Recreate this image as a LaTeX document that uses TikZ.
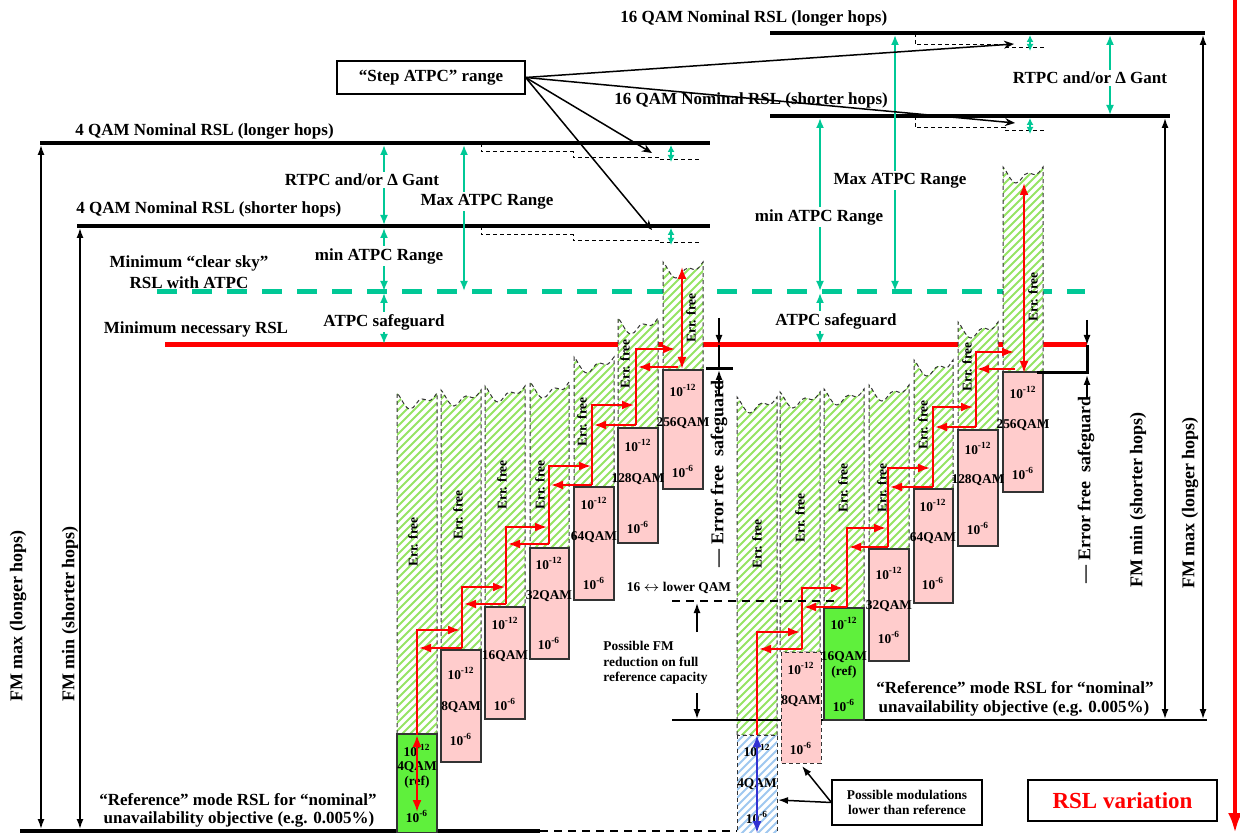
\documentclass[tikz,border=0pt]{standalone}
\usepackage{fontspec}
\setmainfont{Liberation Serif}
\usetikzlibrary{arrows.meta}
\definecolor{tealc}{RGB}{0,200,150}
\definecolor{hgreen}{RGB}{150,228,100}
\definecolor{hblue}{RGB}{160,200,240}
\definecolor{pinkf}{RGB}{255,204,204}
\definecolor{refgreen}{RGB}{95,240,60}
\definecolor{bluearr}{RGB}{50,50,210}
\newcommand\errcol[4]{\path[colpath, path picture={\foreach \k in {-400,-392,...,40} \draw[hgreen,solid,line width=1pt] ({#1+\k},{#4+5}) -- ++(420,-420);}] (#1,#4) -- (#1,#3) .. controls ({#1+4},{#3+4}) and ({#1+8},{#3+16}) .. ({#1+13},{#3+16}) .. controls ({#1+18},{#3+16}) and ({#1+20},{#3+6}) .. ({#1+25},{#3+6}) .. controls ({#1+29},{#3+6}) and ({#1+31},{#3+9}) .. ({#1+34},{#3+7}) .. controls ({#2-3},{#3+5}) and ({#2-1},{#3+1}) .. (#2,#3) -- (#2,#4) -- cycle;}
\newcommand\qt[6]{%
 \node[sm] (#1t) at (#2,#3) {10\textsuperscript{-12}};
 \node[sm] (#1m) at (#2,#5) {#4};
 \node[sm] (#1b) at (#2,#6) {10\textsuperscript{-6}};}
\begin{document}
\begin{tikzpicture}[x=0.5pt,y=-0.5pt,
 nom/.style={line width=2pt},
 lbl/.style={font=\fontsize{8.5}{10}\selectfont\bfseries, inner sep=1pt},
 sm/.style={font=\fontsize{6.7}{7.8}\selectfont\bfseries, inner sep=0.5pt, align=center},
 fm/.style={font=\fontsize{9}{10}\selectfont\bfseries, inner sep=1pt, rotate=90},
 ef/.style={font=\fontsize{6.7}{8}\selectfont\bfseries, inner sep=0.5pt, rotate=90},
 tarr/.style={draw=tealc, line width=0.9pt, {Latex[length=5pt,width=4pt]}-{Latex[length=5pt,width=4pt]}},
 tsm/.style={draw=tealc, line width=0.9pt, {Latex[length=3.5pt,width=3.5pt]}-{Latex[length=3.5pt,width=3.5pt]}},
 barr/.style={draw=black, line width=0.75pt, -{Latex[length=5pt,width=3.5pt]}},
 bdarr/.style={draw=black, line width=0.75pt, {Latex[length=5pt,width=3.5pt]}-{Latex[length=5pt,width=3.5pt]}},
 stepa/.style={draw=black, line width=0.75pt, -{Stealth[length=5pt,width=4pt]}},
 redl/.style={draw=red, line width=1pt, -{Latex[length=6pt,width=4.5pt]}},
 redd/.style={draw=red, line width=1pt, {Latex[length=6pt,width=4.5pt]}-{Latex[length=6pt,width=4.5pt]}},
 dsh/.style={line width=0.5pt, dash pattern=on 2pt off 1.5pt},
 colpath/.style={fill=white, draw=black!80, line width=0.5pt, dash pattern=on 2pt off 1.5pt},
 boxl/.style={draw=black!80, line width=0.75pt},
 wbg/.style={fill=white}
]
\useasboundingbox (0,0) rectangle (1240,833);

% ---------- level lines ----------
\draw[tealc, line width=2.5pt, dash pattern=on 10pt off 7.5pt] (157,292) -- (1085,292);
\draw[red, line width=2.5pt] (165,345) -- (1087,345);
\draw[nom] (40,143) -- (710,143);
\draw[nom] (77,226) -- (710,226);
\draw[nom] (770,33) -- (1205,33);
\draw[nom] (770,116) -- (1170,116);

% step ATPC dashed steps
\draw[dsh] (481,143)--(481,152)--(573,152)--(573,158)--(660,158)--(660,160)--(700,160);
\draw[dsh] (481,226)--(481,235)--(573,235)--(573,241)--(660,241)--(660,243)--(700,243);
\draw[dsh] (915,33)--(915,45)--(1005,45)--(1005,48)--(1045,48);
\draw[dsh] (915,116)--(915,128)--(1005,128)--(1005,131)--(1045,131);
\draw[tsm] (671,145)--(671,162);
\draw[tsm] (671,228)--(671,245);
\draw[tsm] (1030,35)--(1030,51);
\draw[tsm] (1030,118)--(1030,134);

% ---------- texts of levels ----------
\node[lbl,anchor=west] (t4l) at (73,131) {4 QAM Nominal RSL (longer hops)};
\node[lbl,anchor=west] (t4s) at (74,209) {4 QAM Nominal RSL (shorter hops)};
\node[lbl,anchor=west] (t16l) at (618,18) {16 QAM Nominal RSL (longer hops)};
\node[lbl,anchor=west] (t16s) at (612,100) {16 QAM Nominal RSL (shorter hops)};
\node[lbl] (mcs1) at (189,263) {Minimum “clear sky”};
\node[lbl] (mcs2) at (189,283) {RSL with ATPC};
\node[lbl] (mnr) at (196,329) {Minimum necessary RSL};

% ---------- teal range arrows ----------
\draw[tarr] (384,145)--(384,225);
\node[lbl,wbg] (rtpcL) at (362,180) {RTPC and/or Δ Gant};
\draw[tarr] (384,228)--(384,291);
\node[lbl,wbg] (minL) at (379,256) {min ATPC Range};
\draw[tarr] (384,293)--(384,344);
\node[lbl,wbg] (sgL) at (384,322) {ATPC safeguard};
\draw[tarr] (464,145)--(464,291);
\node[lbl,wbg] (maxL) at (487,202) {Max ATPC Range};
\draw[tarr] (1110,35)--(1110,115);
\node[lbl,wbg] (rtpcR) at (1090,78) {RTPC and/or Δ Gant};
\draw[tarr] (820,118)--(820,291);
\node[lbl,wbg] (minR) at (819,217) {min ATPC Range};
\draw[tarr] (820,293)--(820,344);
\node[lbl,wbg] (sgR) at (836,321) {ATPC safeguard};
\draw[tarr] (895,35)--(895,291);
\node[lbl,wbg] (maxR) at (900,181) {Max ATPC Range};

% ---------- FM arrows ----------
\draw[bdarr] (41,145)--(41,829);
\node[fm] (fmmaxL) at (18,616) {FM max (longer hops)};
\draw[bdarr] (80,228)--(80,829);
\node[fm] (fminL) at (70,614) {FM min (shorter hops)};
\draw[bdarr] (1165,118)--(1165,719);
\node[fm] (fminR) at (1138,500) {FM min (shorter hops)};
\draw[bdarr] (1203,35)--(1203,719);
\node[fm] (fmmaxR) at (1190,503) {FM max (longer hops)};

% ---------- reference lines ----------
\draw[line width=2pt] (20,831)--(540,831);
\draw[line width=1.2pt, dash pattern=on 4pt off 3pt] (540,831)--(737,831);
\node[lbl] (refL1) at (238,800) {“Reference” mode RSL for “nominal”};
\node[lbl] (refL2) at (239,819) {unavailability objective (e.g. 0.005\%)};
\node[lbl] (refR1) at (1015,688) {“Reference” mode RSL for “nominal”};
\node[lbl] (refR2) at (1014,708) {unavailability objective (e.g. 0.005\%)};

% ---------- error-free columns ----------
\errcol{397}{437}{393}{734}
\errcol{441}{481}{390}{650}
\errcol{485}{525}{386}{607}
\errcol{530}{569}{382}{548}
\errcol{574}{614}{357}{487}
\errcol{618}{658}{318}{428}
\errcol{663}{703}{262}{370}
\errcol{737}{777}{397}{735}
\errcol{780}{820}{392}{652}
\errcol{824}{864}{389}{608}
\errcol{869}{909}{385}{549}
\errcol{914}{953}{360}{489}
\errcol{958}{998}{322}{430}
\errcol{1003}{1043}{167}{372}
\path[colpath, path picture={\foreach \k in {-120,-112,...,40} \draw[hblue,solid,line width=1pt] ({737+\k},838) -- ++(160,-160);}] (737,735) rectangle (777,833);

\draw[line width=0.6pt] (672,720)--(1207,720);

% ---------- modulation boxes ----------
\draw[boxl,fill=refgreen] (397,734) rectangle (437,833);
\draw[boxl,fill=pinkf] (441,650) rectangle (481,762);
\draw[boxl,fill=pinkf] (485,607) rectangle (525,719);
\draw[boxl,fill=pinkf] (530,548) rectangle (569,659);
\draw[boxl,fill=pinkf] (574,487) rectangle (614,600);
\draw[boxl,fill=pinkf] (618,428) rectangle (658,543);
\draw[boxl,fill=pinkf] (663,370) rectangle (703,489);
\draw[boxl,fill=pinkf,dsh] (781,652) rectangle (821,763);
\draw[boxl,fill=refgreen] (824,608) rectangle (864,720);
\draw[boxl,fill=pinkf] (869,549) rectangle (909,661);
\draw[boxl,fill=pinkf] (914,489) rectangle (953,603);
\draw[boxl,fill=pinkf] (958,430) rectangle (998,546);
\draw[boxl,fill=pinkf] (1003,372) rectangle (1043,492);

\qt{a1}{417}{750}{4QAM\\(ref)}{775}{816}
\qt{a2}{461}{673}{8QAM}{707}{739}
\qt{a3}{505}{623}{16QAM}{656}{704}
\qt{a4}{549}{563}{32QAM}{596}{643}
\qt{a5}{594}{503}{64QAM}{537}{583}
\qt{a6}{638}{445}{128QAM}{479}{527}
\qt{a7}{683}{390}{256QAM}{423}{471}
\qt{b1}{757}{750}{4QAM}{784}{817}
\qt{b2}{801}{668}{8QAM}{701}{748}
\qt{b3}{844}{623}{16QAM\\(ref)}{665}{705}
\qt{b4}{889}{573}{32QAM}{606}{637}
\qt{b5}{933}{505}{64QAM}{538}{583}
\qt{b6}{978}{448}{128QAM}{480}{528}
\qt{b7}{1023}{392}{256QAM}{425}{473}

% Err. free labels
\node[ef] (ea1) at (413,542) {Err. free};
\node[ef] (ea2) at (458,515) {Err. free};
\node[ef] (ea3) at (502,485) {Err. free};
\node[ef] (ea4) at (540,485) {Err. free};
\node[ef] (ea5) at (582,422) {Err. free};
\node[ef] (ea6) at (625,364) {Err. free};
\node[ef] (ea7) at (691,318) {Err. free};
\node[ef] (eb1) at (757,544) {Err. free};
\node[ef] (eb2) at (800,518) {Err. free};
\node[ef] (eb3) at (843,488) {Err. free};
\node[ef] (eb4) at (882,488) {Err. free};
\node[ef] (eb5) at (923,425) {Err. free};
\node[ef] (eb6) at (967,367) {Err. free};
\node[ef] (eb7) at (1033,297) {Err. free};

% ---------- red staircases ----------
\draw[redd] (417,735)--(417,812);
\draw[redl] (417,735)--(417,630)--(460,630);
\draw[redl] (462,648)--(419,648);
\draw[redl] (462,648)--(462,587)--(505,587);
\draw[redl] (506,604)--(464,604);
\draw[redl] (506,604)--(506,527)--(547,527);
\draw[redl] (549,544)--(508,544);
\draw[redl] (549,544)--(549,466)--(591,466);
\draw[redl] (592,485)--(551,485);
\draw[redl] (592,485)--(592,405)--(634,405);
\draw[redl] (636,425)--(594,425);
\draw[redl] (636,425)--(636,349)--(675,349);
\draw[redl] (678,367)--(638,367);
\draw[redd] (682,267)--(682,369);

\draw[draw=bluearr, line width=1pt, {Latex[length=6pt,width=4.5pt]}-{Latex[length=6pt,width=4.5pt]}] (757,735)--(757,833);
\draw[redl] (757,735)--(757,632)--(800,632);
\draw[redl] (802,649)--(759,649);
\draw[redl] (802,649)--(802,588)--(843,588);
\draw[redl] (847,607)--(804,607);
\draw[redl] (847,607)--(847,528)--(886,528);
\draw[redl] (888,547)--(849,547);
\draw[redl] (888,547)--(888,468)--(930,468);
\draw[redl] (933,487)--(890,487);
\draw[redl] (933,487)--(933,407)--(973,407);
\draw[redl] (976,427)--(935,427);
\draw[redl] (976,427)--(976,352)--(1014,352);
\draw[redl] (1015,369)--(977,369);
\draw[redd] (1024,183)--(1024,373);

% ---------- FM reduction ----------
\draw[line width=1.2pt, dash pattern=on 4pt off 3pt] (672,601)--(840,601);
\node[sm] (lowq) at (679,588) {16 $\leftrightarrow$ lower QAM};
\draw[barr] (697,632)--(697,603);
\draw[barr] (697,693)--(697,719);
\node[sm,anchor=west,align=left] (fmred) at (602,663) {Possible FM\\reduction on full\\reference capacity};

% ---------- error free safeguards ----------
\draw[barr] (719,318)--(719,345);
\draw[line width=0.75pt] (719,345)--(719,369);
\draw[line width=1.5pt] (706,369)--(733,369);
\draw[barr] (719,394)--(719,370);
\node[fm] (efsL) at (719,474) {— Error free\ \ safeguard};
\draw[barr] (1087,320)--(1087,345);
\draw[line width=1.5pt] (1087,345)--(1087,373)--(1037,373);
\draw[barr] (1087,398)--(1087,375);
\node[fm] (efsR) at (1086,490) {— Error free\ \ safeguard};

% ---------- Step ATPC ----------
\node[draw, line width=0.6pt, lbl, minimum width=94pt, minimum height=16.5pt] (step) at (431,77.5) {“Step ATPC” range};
\draw[stepa] (step.east) -- (1014,44);
\draw[stepa] (step.east) -- (1015,123);
\draw[stepa] (step.east) -- (652,153);
\draw[stepa] (step.east) -- (652,230);

% ---------- possible modulations ----------
\node[draw, line width=0.6pt, sm, minimum width=75pt, minimum height=22.5pt] (pm) at (907,802.5) {Possible modulations\\lower than reference};
\draw[barr] (pm.west) -- (778,800);
\draw[barr] (pm.west) -- (802,766);

% ---------- RSL variation ----------
\node[draw, line width=0.6pt, minimum width=94.5pt, minimum height=20.5pt, text=red, font=\fontsize{11.5}{13}\selectfont\bfseries] (rslv) at (1122.5,800.5) {RSL variation};
\coordinate (rtop) at (1235,0);
\coordinate (rbot) at (1235,833);
\draw[red, line width=2pt, -{Latex[length=10pt,width=7pt]}] (rtop) -- (rbot);
\end{tikzpicture}
\end{document}
